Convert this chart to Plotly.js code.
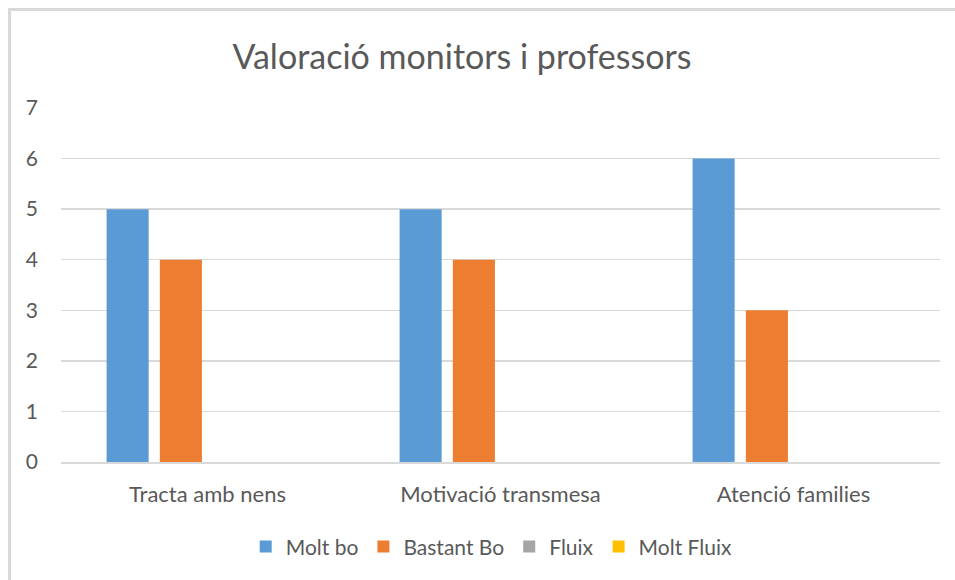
<!DOCTYPE html>
<html>
<head>
<meta charset="utf-8">
<script src="https://cdn.plot.ly/plotly-3.0.1.min.js"></script>
<style>
html, body { margin: 0; padding: 0; background: #fff; overflow: hidden; }
#frame { position: absolute; left: 8px; top: 8px; width: 1000px; height: 1000px; border-left: 3px solid #d9d9d9; border-top: 3px solid #d9d9d9; box-sizing: border-box; pointer-events: none; }
#chart { position: absolute; left: 0; top: 0; width: 955px; height: 580px; }
</style>
</head>
<body>
<div id="chart"></div>
<div id="frame"></div>
<script>
const categories = ["Tracta amb nens", "Motivació transmesa", "Atenció families"];
const seriesNames = ["Molt bo", "Bastant Bo", "Fluix", "Molt Fluix"];
const moltBo = [5, 5, 6];
const bastantBo = [4, 4, 3];
const fluix = [0, 0, 0];
const moltFluix = [0, 0, 0];
const yTicks = [0, 1, 2, 3, 4, 5, 6, 7];
const colors = ["#5B9BD5", "#ED7D31", "#A5A5A5", "#FFC000"];

const values = [moltBo, bastantBo, fluix, moltFluix];
const traces = values.map((v, i) => ({
  type: "bar",
  name: seriesNames[i],
  x: categories,
  y: v,
  marker: { color: colors[i] },
  hoverinfo: "none"
}));

const font = "Lato, 'Open Sans', sans-serif";
const layout = {
  width: 955,
  height: 580,
  margin: { l: 61, r: 15, t: 108, b: 118 },
  paper_bgcolor: "rgba(0,0,0,0)",
  plot_bgcolor: "#fff",
  font: { family: font, color: "#595959", size: 21 },
  title: {
    text: "Valoració monitors i professors",
    font: { family: font, size: 34, color: "#595959" },
    x: 462 / 955, xanchor: "center", xref: "container",
    y: 1 - 57 / 580, yanchor: "middle", yref: "container"
  },
  barmode: "group",
  bargap: 0.273,
  bargroupgap: 0.21,
  xaxis: {
    showgrid: false,
    showline: true,
    linecolor: "#d9d9d9",
    linewidth: 1.5,
    ticks: "",
    ticklabelstandoff: 12,
    tickfont: { size: 22, color: "#595959" },
    fixedrange: true
  },
  yaxis: {
    range: [0, 7],
    tickvals: yTicks,
    ticktext: yTicks.map(String),
    showgrid: true,
    gridcolor: "#d9d9d9",
    gridwidth: 1.5,
    zeroline: false,
    showline: false,
    ticks: "",
    ticklabelstandoff: 22,
    tickfont: { size: 21, color: "#595959" },
    fixedrange: true
  },
  showlegend: true,
  legend: {
    orientation: "h",
    x: 0.49, xanchor: "center",
    y: -0.24, yanchor: "middle",
    font: { size: 21, color: "#595959" },
    itemwidth: 30,
    traceorder: "normal"
  }
};

Plotly.newPlot("chart", traces, layout, { displayModeBar: false, staticPlot: true });
</script>
</body>
</html>
